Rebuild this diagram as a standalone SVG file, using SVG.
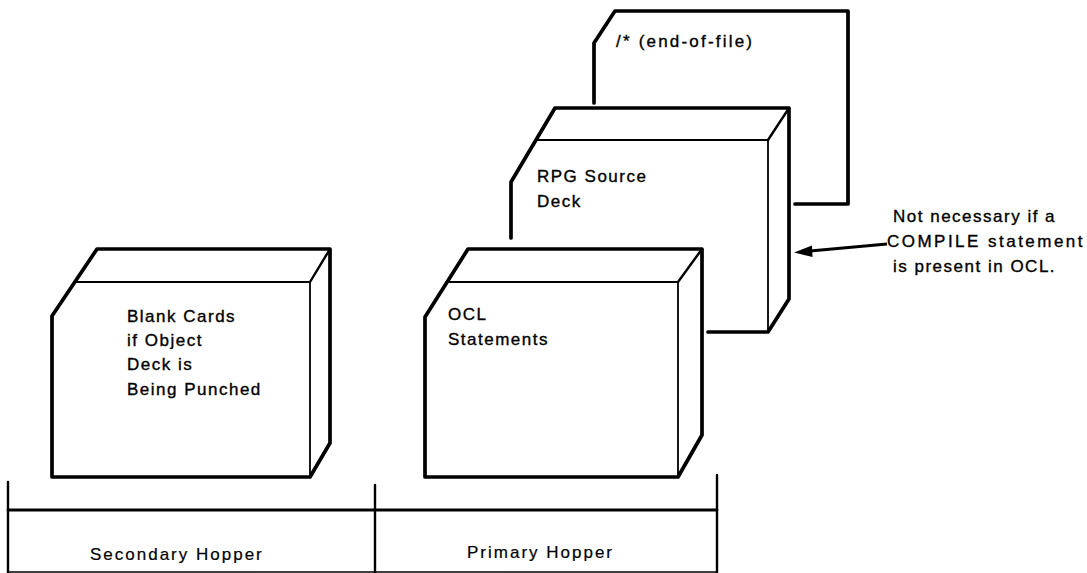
<svg xmlns="http://www.w3.org/2000/svg" width="1087" height="573" viewBox="0 0 1087 573">
<defs>
<style>
.thick{fill:none;stroke:#000;stroke-width:3.7;stroke-linejoin:round;stroke-linecap:round}
.thin{fill:none;stroke:#000;stroke-width:1.8;stroke-linecap:round}
.mid{fill:none;stroke:#000;stroke-width:2.4;stroke-linecap:round}
.t{font-family:"Liberation Sans",Arial,sans-serif;font-size:17px;letter-spacing:1.5px;fill:#000;stroke:#000;stroke-width:0.35}
.h{letter-spacing:2px;stroke-width:0.2}
</style>
</defs>
<rect width="1087" height="573" fill="#fff"/>

<g id="eof-card">
<path class="thick" d="M594,103 L594,43 L615,11 L848,11 L848,204 L795,204"/>
<text class="t" x="616" y="47" style="letter-spacing:2.2px">/* (end-of-file)</text>
</g>

<g id="rpg-deck">
<path class="thick" d="M511,238 L511,182 L555,108 L789,108 L789,299 L768,332 L708,332"/>
<path class="thin" d="M536,140 L768,140 L768,332"/>
<path class="mid" d="M789,108 L768,140"/>
<text class="t" x="537" y="182">RPG Source</text>
<text class="t" x="537" y="207">Deck</text>
</g>

<g id="ocl-deck">
<path class="thick" d="M468,249 L702,249 L702,435 L678,477 L425,477 L425,317 Z"/>
<path class="thin" d="M447,282 L678,282 L678,477"/>
<path class="mid" d="M702,249 L678,282"/>
<text class="t" x="448" y="320">OCL</text>
<text class="t" x="448" y="345">Statements</text>
</g>

<g id="blank-deck">
<path class="thick" d="M97,249 L330,249 L330,443 L310,477 L52,477 L52,316 Z"/>
<path class="thin" d="M75,282 L310,282 L310,477"/>
<path class="mid" d="M330,249 L310,282"/>
<text class="t" x="127" y="322">Blank Cards</text>
<text class="t" x="127" y="346">if Object</text>
<text class="t" x="127" y="370">Deck is</text>
<text class="t" x="127" y="395">Being Punched</text>
</g>

<g id="hopper">
<path class="mid" d="M8,482 L8,573 M375,485 L375,573 M717,475 L717,573"/>
<path class="thick" d="M8,510 L717,510" style="stroke-width:2.8"/>
<path class="thin" d="M8,572 L717,572" style="stroke-width:1.4"/>
<text class="t h" x="90" y="560">Secondary Hopper</text>
<text class="t h" x="467" y="558">Primary Hopper</text>
</g>

<g id="note">
<text class="t" x="893" y="222">Not necessary if a</text>
<text class="t" x="887" y="247" textLength="197" lengthAdjust="spacing">COMPILE statement</text>
<text class="t" x="893" y="272">is present in OCL.</text>
</g>

<g id="connectors">
<path d="M887,244 L810,251" fill="none" stroke="#000" stroke-width="3"/>
<path d="M794,252.5 L812,245.5 L812.5,257 Z" fill="#000"/>
</g>
</svg>
